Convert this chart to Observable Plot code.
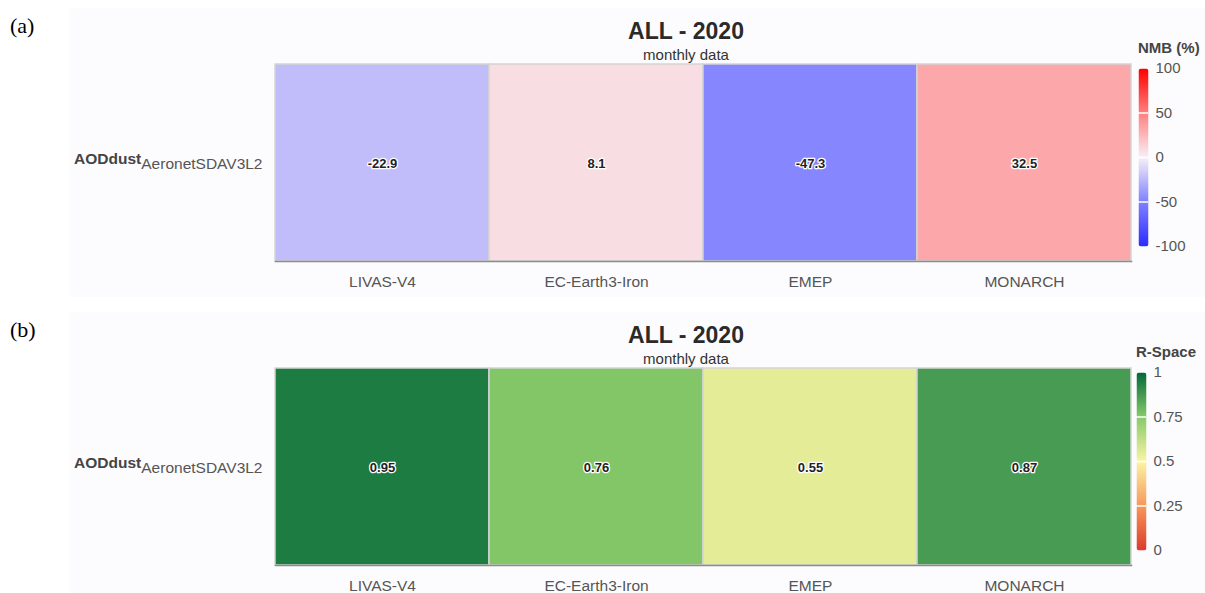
<!DOCTYPE html>
<html>
<head>
<meta charset="utf-8">
<script src="https://cdn.jsdelivr.net/npm/d3@7"></script>
<script src="https://cdn.jsdelivr.net/npm/@observablehq/plot@0.6"></script>
<style>
  html, body { margin: 0; padding: 0; background: #ffffff; }
  body { width: 1205px; height: 593px; position: relative; overflow: hidden;
         font-family: "Liberation Sans", Arial, Helvetica, sans-serif; }
  .abs { position: absolute; }
  .panelbg { left: 70px; width: 1135px; height: 289px; background: #fcfcfe; }
  .tag { font-family: "Liberation Serif", "Times New Roman", serif; font-size: 22px; line-height: 1; color: #000; }
  .title { width: 600px; text-align: center; font-size: 23px; font-weight: bold; line-height: 1; color: #2a2a2a; }
  .subtitle { width: 600px; text-align: center; font-size: 15px; line-height: 1; color: #333; }
  .ltitle { font-size: 15px; font-weight: bold; line-height: 1; color: #444; white-space: nowrap; }
</style>
</head>
<body>
<script>
// ---- data ----
const models = ["LIVAS-V4", "EC-Earth3-Iron", "EMEP", "MONARCH"];
const species = "AODdust";
const network = "AeronetSDAV3L2";
const nmbValues = [-22.9, 8.1, -47.3, 32.5];
const rValues = [0.95, 0.76, 0.55, 0.87];
const panelTags = ["(a)", "(b)"];
const titles = ["ALL - 2020", "ALL - 2020"];
const subtitles = ["monthly data", "monthly data"];
const legendTitles = ["NMB (%)", "R-Space"];
const nmbTicks = [-100, -50, 0, 50, 100];
const rTicks = [0, 0.25, 0.5, 0.75, 1];
const nmbColorDomain = [-100, -50, 0, 50, 100];
const nmbColorRange = ["#2b2bff", "#8080ff", "#f7f0f6", "#ff8080", "#ff0000"];
const rColorDomain = [0, 0.25, 0.5, 0.75, 1];
const rColorRange = ["#dc3a2c", "#f8975a", "#fbf5a4", "#88ca6a", "#026838"];

const FONT = '"Liberation Sans", Arial, Helvetica, sans-serif';
const rowKey = species + "|" + network;

function addDiv(cls, text, left, top) {
  const d = document.createElement("div");
  d.className = "abs " + cls;
  d.textContent = text;
  d.style.left = left + "px";
  d.style.top = top + "px";
  document.body.appendChild(d);
  return d;
}

function makePanel(i, oy, values, colorDomain, colorRange, ticks, legendX) {
  const bg = document.createElement("div");
  bg.className = "abs panelbg";
  bg.style.top = (8 + oy) + "px";
  document.body.appendChild(bg);

  addDiv("tag", panelTags[i], 10, 14.6 + oy);
  addDiv("title", titles[i], 386, 19.5 + oy);
  addDiv("subtitle", subtitles[i], 386, 47.3 + oy);
  addDiv("ltitle", legendTitles[i], legendX, 40.3 + oy);

  const rows = models.map((m, k) => ({model: m, row: rowKey, value: values[k]}));
  const color = {type: "linear", domain: colorDomain, range: colorRange, interpolate: "rgb"};

  const heat = Plot.plot({
    width: 1135, height: 235,
    marginLeft: 205, marginRight: 74, marginTop: 2, marginBottom: 36,
    x: {domain: models, padding: 0, label: null},
    y: {domain: [rowKey], padding: 0, label: null},
    color,
    style: {fontFamily: FONT, fontSize: "15.5px", color: "#555", background: "transparent", overflow: "visible"},
    marks: [
      Plot.cell(rows, {x: "model", y: "row", fill: "value", stroke: "#d4d4d4", strokeWidth: 1.5, inset: 0}),
      Plot.frame({anchor: "bottom", stroke: "#8c8c8c", strokeWidth: 1.5}),
      Plot.text(rows, {x: "model", y: "row", text: d => String(d.value), fill: "#222",
        stroke: "white", strokeWidth: 2.5, fontWeight: "bold", fontSize: 13, dy: 1}),
      Plot.axisX({tickSize: 0, tickPadding: 14, fontSize: 15.5, label: null}),
      Plot.axisY({tickSize: 0, tickPadding: 13, fontSize: 15.5, label: null, dy: 1.5})
    ]
  });
  heat.style.position = "absolute";
  heat.style.left = "70px";
  heat.style.top = (62 + oy) + "px";
  // rich y tick label: bold species + subscript network
  d3.select(heat).selectAll('g[aria-label="y-axis tick label"] text').each(function() {
    const t = d3.select(this);
    const [sp, nw] = String(t.text()).split("|");
    t.text(null);
    t.append("tspan").attr("font-weight", "bold").attr("fill", "#444").attr("dy", "-0.33em").text(sp);
    t.append("tspan").attr("fill", "#555").attr("dy", "0.33em").text(nw);
  });
  document.body.appendChild(heat);

  // vertical colour bar legend
  const lo = colorDomain[0], hi = colorDomain[colorDomain.length - 1];
  const legend = Plot.plot({
    width: 75, height: 194,
    marginLeft: 8, marginRight: 57, marginTop: 8, marginBottom: 8,
    x: {domain: [0, 1], axis: null},
    y: {domain: [lo, hi]},
    color,
    style: {fontFamily: FONT, fontSize: "15px", color: "#555", background: "transparent", overflow: "visible"},
    marks: [
      Plot.raster({x1: 0, x2: 1, y1: lo, y2: hi, width: 1, height: 178, fill: (x, y) => y}),
      Plot.ruleY(ticks.filter(t => t !== lo && t !== hi), {stroke: "white", strokeWidth: 1.5}),
      Plot.axisY({anchor: "right", ticks: ticks, tickSize: 0, tickPadding: 7, fontSize: 15,
        tickFormat: d => String(d), label: null})
    ]
  });
  legend.style.position = "absolute";
  legend.style.left = (legendX - 8) + "px";
  legend.style.top = (60 + oy) + "px";
  // rounded bar corners (clip relative to the image's own box)
  const svg = d3.select(legend);
  const cid = "barclip" + i;
  svg.append("defs").append("clipPath").attr("id", cid).attr("clipPathUnits", "objectBoundingBox")
    .append("rect").attr("x", 0).attr("y", 0).attr("width", 1).attr("height", 1)
    .attr("rx", 0.3).attr("ry", 0.017);
  svg.selectAll("image").attr("clip-path", `url(#${cid})`);
  document.body.appendChild(legend);
}

makePanel(0, 0, nmbValues, nmbColorDomain, nmbColorRange, nmbTicks, 1138);
makePanel(1, 304, rValues, rColorDomain, rColorRange, rTicks, 1136);
</script>
</body>
</html>
